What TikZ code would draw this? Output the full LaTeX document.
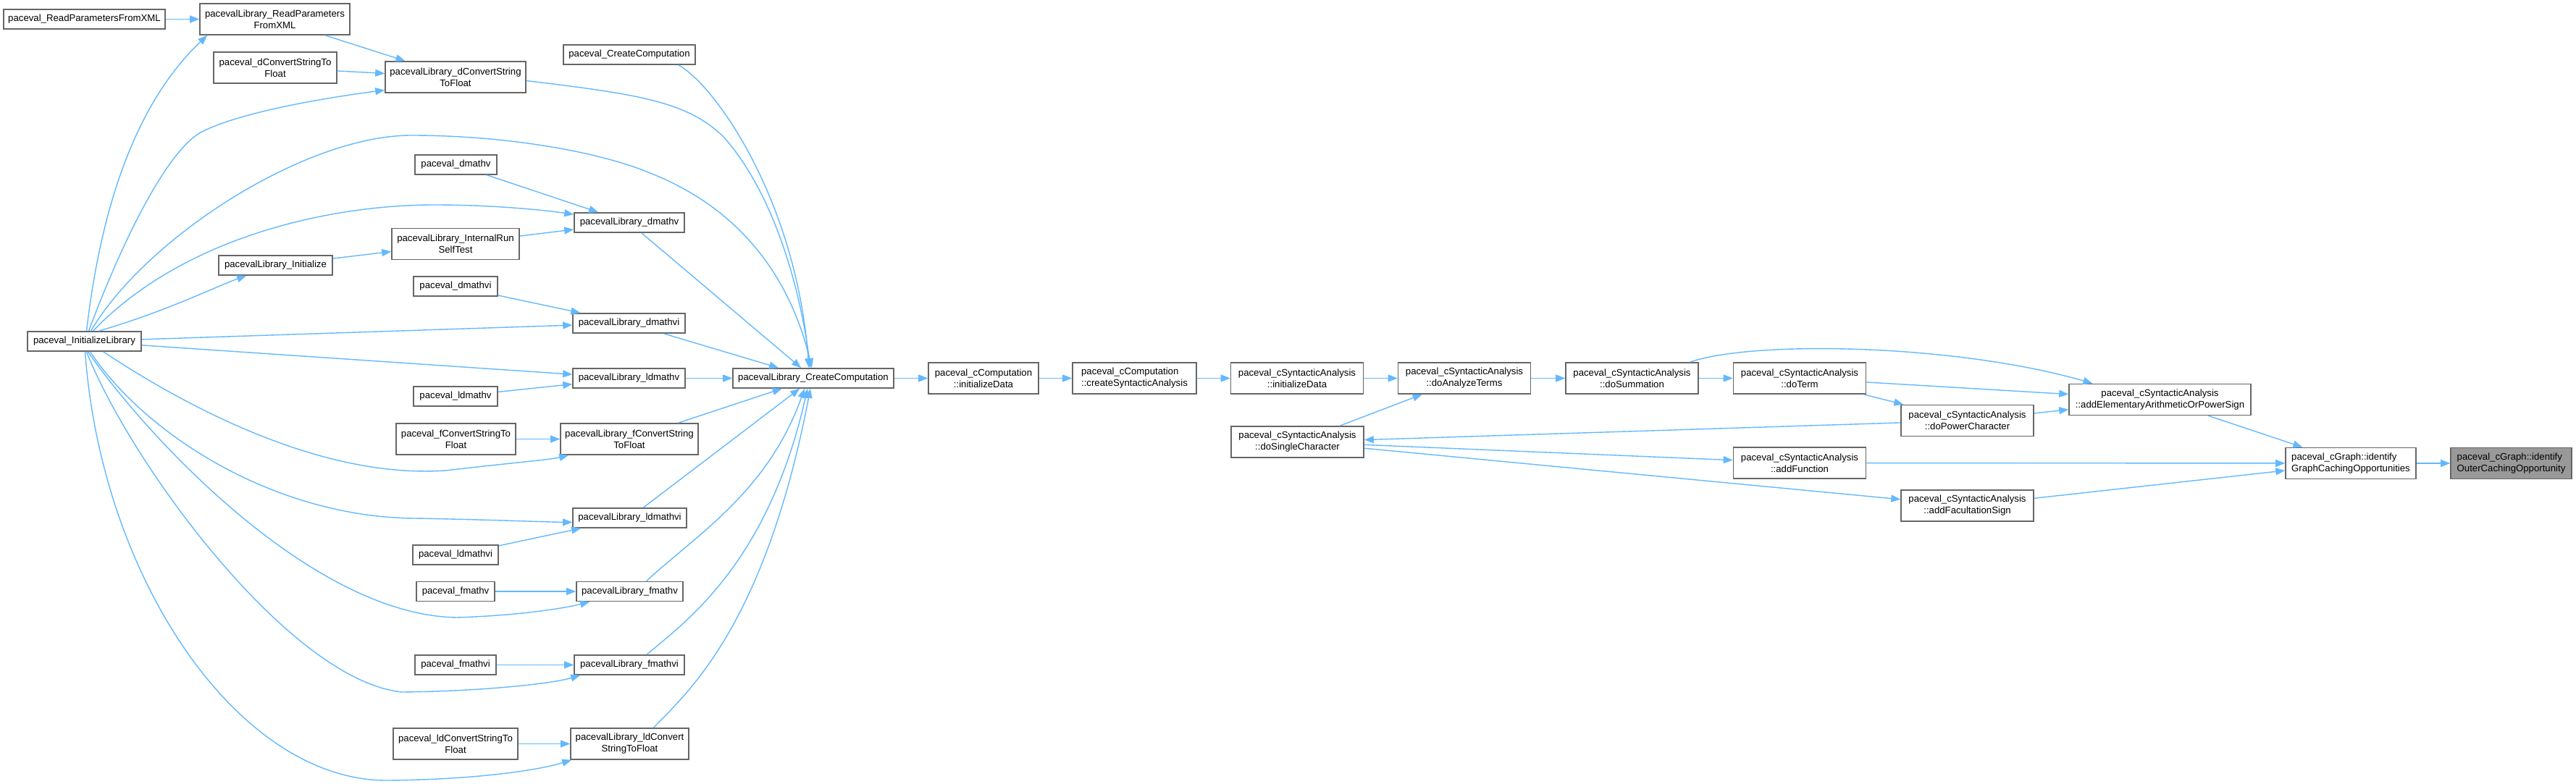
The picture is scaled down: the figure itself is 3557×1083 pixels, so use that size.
\documentclass[tikz,border=0pt]{standalone}
\usepackage{fontspec}
\setmainfont{Liberation Sans}
\usetikzlibrary{arrows.meta,calc}

\definecolor{edgeblue}{RGB}{99,184,255}
\definecolor{boxline}{RGB}{102,102,102}
\definecolor{selfill}{RGB}{153,153,153}

\begin{document}
\begin{tikzpicture}[x=1pt,y=-1pt,
  fn/.style={draw=boxline, line width=1.6pt, fill=white, inner sep=2pt,
    minimum height=27pt, align=center, font=\fontsize{13.2pt}{16pt}\selectfont},
  fn2/.style={fn, minimum height=43pt},
  call/.style={draw=edgeblue, line width=1.4pt, -{Triangle[length=13pt,width=10pt]}}]

\useasboundingbox (0,0) rectangle (3557,1083);

% left column
\node[fn, minimum width=223pt] (rpx) at (116.5,26.5) {paceval\_ReadParametersFromXML};
\node[fn, minimum width=157pt] (il) at (116.5,471.5) {paceval\_InitializeLibrary};

% second column
\node[fn2, minimum width=207pt] (lrpx) at (379.5,26.5) {pacevalLibrary\_ReadParameters\\FromXML};
\node[fn2, minimum width=170pt] (dcs) at (380,93.5) {paceval\_dConvertStringTo\\Float};
\node[fn, minimum width=157pt] (lini) at (380.5,366.5) {pacevalLibrary\_Initialize};

% third column
\node[fn2, minimum width=194pt] (ldcs) at (629,106.5) {pacevalLibrary\_dConvertString\\ToFloat};
\node[fn, minimum width=113pt] (dmv) at (629.5,227.5) {paceval\_dmathv};
\node[fn2, minimum width=176pt] (lirs) at (629,337) {pacevalLibrary\_InternalRun\\SelfTest};
\node[fn, minimum width=116pt] (dmvi) at (629,395.5) {paceval\_dmathvi};
\node[fn, minimum width=116pt] (ldmv) at (629,547.5) {paceval\_ldmathv};
\node[fn2, minimum width=165pt] (fcs) at (629.5,606.5) {paceval\_fConvertStringTo\\Float};
\node[fn, minimum width=118pt] (ldmvi) at (629,766.5) {paceval\_ldmathvi};
\node[fn, minimum width=108pt] (fmv) at (629,817) {paceval\_fmathv};
\node[fn, minimum width=112pt] (fmvi) at (629,918.5) {paceval\_fmathvi};
\node[fn2, minimum width=172pt] (ldcsf) at (629,1027.5) {paceval\_ldConvertStringTo\\Float};

% fourth column
\node[fn, minimum width=182pt] (ccp) at (869,75.5) {paceval\_CreateComputation};
\node[fn, minimum width=152pt] (libdmv) at (869,307.5) {pacevalLibrary\_dmathv};
\node[fn, minimum width=155pt] (libdmvi) at (868.5,446.5) {pacevalLibrary\_dmathvi};
\node[fn, minimum width=155pt] (libldmv) at (868.5,522.5) {pacevalLibrary\_ldmathv};
\node[fn2, minimum width=190pt] (libfcs) at (869,606.5) {pacevalLibrary\_fConvertString\\ToFloat};
\node[fn, minimum width=157pt] (libldmvi) at (869.5,715.5) {pacevalLibrary\_ldmathvi};
\node[fn, minimum width=147pt] (libfmv) at (869.5,817) {pacevalLibrary\_fmathv};
\node[fn, minimum width=152pt] (libfmvi) at (869,918.5) {pacevalLibrary\_fmathvi};
\node[fn2, minimum width=163pt] (libldcs) at (869.5,1027.5) {pacevalLibrary\_ldConvert\\StringToFloat};

% main chain
\node[fn, minimum width=222pt] (cc) at (1123,522.5) {pacevalLibrary\_CreateComputation};
\node[fn2, minimum width=152pt] (cin) at (1358,522.5) {paceval\_cComputation\\::initializeData};
\node[fn2, minimum width=171pt, align=left] (ccsa) at (1566.5,522.5) {paceval\_cComputation\\::createSyntacticAnalysis};
\node[fn2, minimum width=183pt] (sin) at (1791,522.5) {paceval\_cSyntacticAnalysis\\::initializeData};
\node[fn2, minimum width=183pt] (ssc) at (1791.5,610.5) {paceval\_cSyntacticAnalysis\\::doSingleCharacter};
\node[fn2, minimum width=183pt] (sat) at (2022,522.5) {paceval\_cSyntacticAnalysis\\::doAnalyzeTerms};
\node[fn2, minimum width=183pt] (ssum) at (2253.5,522.5) {paceval\_cSyntacticAnalysis\\::doSummation};
\node[fn2, minimum width=183pt] (sterm) at (2485,522.5) {paceval\_cSyntacticAnalysis\\::doTerm};
\node[fn2, minimum width=183pt] (sfun) at (2485,639.5) {paceval\_cSyntacticAnalysis\\::addFunction};
\node[fn2, minimum width=183pt] (spow) at (2716.5,581) {paceval\_cSyntacticAnalysis\\::doPowerCharacter};
\node[fn2, minimum width=183pt] (sfac) at (2716.5,698.5) {paceval\_cSyntacticAnalysis\\::addFacultationSign};
\node[fn2, minimum width=251pt] (saea) at (2982.5,552) {paceval\_cSyntacticAnalysis\\::addElementaryArithmeticOrPowerSign};
\node[fn2, minimum width=180pt, align=left] (ggc) at (3246,640) {paceval\_cGraph::identify\\GraphCachingOpportunities};
\node[fn2, minimum width=167pt, align=left, fill=selfill] (goc) at (3467.5,640) {paceval\_cGraph::identify\\OuterCachingOpportunity};

% straight calls
\foreach \a/\b in {rpx/lrpx, lrpx/ldcs, dcs/ldcs, lini/lirs, lirs/libdmv, dmv/libdmv,
  dmvi/libdmvi, il/libdmvi, il/libldmv, ldmv/libldmv, fcs/libfcs, ldmvi/libldmvi,
  fmv/libfmv, fmvi/libfmvi, ldcsf/libldcs, libdmv/cc, libdmvi/cc, libldmv/cc,
  libfcs/cc, libldmvi/cc, cc/cin, cin/ccsa, ccsa/sin, sin/sat, ssc/sat, sat/ssum,
  ssum/sterm, sterm/saea, sterm/spow, spow/saea, spow/ssc, ssc/sfun, ssc/sfac,
  saea/ggc, sfun/ggc, sfac/ggc, ggc/goc} {
  \draw[call] (\a) -- (\b);
}

% curved calls
\draw[call] ($(il.north)+(3,0)$) .. controls (140,280) and (190,140) .. ($(lrpx.south west)+(11,0)$);
\draw[call] ($(il.north)+(6,0)$) .. controls (170,330) and (230,210) .. (277,183)
  .. controls (330,155) and (450,135) .. ($(ldcs.west)+(0,18)$);
\draw[call] ($(il.north)+(9,0)$) .. controls (200,330) and (420,187) .. (568,187)
  .. controls (700,187) and (830,210) .. (900,240)
  .. controls (1050,300) and (1100,420) .. ($(cc.north)+(-2,0)$);
\draw[call] ($(il.north)+(12,0)$) .. controls (250,330) and (450,283) .. (600,283)
  .. controls (680,283) and (750,290) .. ($(libdmv.north west)+(0,3)$);
\draw[call] ($(il.north)+(20,0)$) .. controls (230,430) and (300,395) .. ($(lini.south west)+(39,0)$);
\draw[call] ($(ldcs.east)+(0,5)$) .. controls (880,130) and (950,140) .. (1000,190)
  .. controls (1070,270) and (1105,400) .. ($(cc.north)+(-4,0)$);
\draw[call] ($(ccp.south)+(68,0)$) .. controls (990,120) and (1100,280) .. ($(cc.north)+(-6,0)$);

\draw[call] ($(il.south)+(26,0)$) .. controls (300,590) and (470,660) .. (615,650)
  .. controls (700,640) and (760,635) .. ($(libfcs.south west)+(12,0)$);
\draw[call] ($(il.south)+(8,0)$) .. controls (200,600) and (380,715) .. (574,716)
  .. controls (680,718) and (750,721) .. ($(libldmvi.west)+(0,6)$);
\draw[call] ($(il.south)+(5,0)$) .. controls (200,600) and (430,850) .. (631,853)
  .. controls (720,850) and (780,840) .. ($(libfmv.south west)+(19,0)$);
\draw[call] ($(il.south)+(3,0)$) .. controls (180,640) and (400,940) .. (555,956)
  .. controls (660,955) and (760,945) .. ($(libfmvi.south west)+(9,0)$);
\draw[call] ($(il.south)+(1,0)$) .. controls (140,800) and (330,1080) .. (536,1078)
  .. controls (650,1077) and (740,1065) .. ($(libldcs.south west)+(2,0)$);
\draw[call] ($(libfmv.north)+(23,0)$) .. controls (960,740) and (1060,680) .. ($(cc.south)+(-12,0)$);
\draw[call] ($(libfmvi.north)+(24,0)$) .. controls (945,860) and (1060,780) .. ($(cc.south)+(-8,0)$);
\draw[call] ($(libldcs.north)+(33,0)$) .. controls (945,960) and (1055,870) .. ($(cc.south)+(-4,0)$);

\draw[call] ($(ssum.north)+(80,0)$) .. controls (2420,470) and (2700,475) .. ($(saea.north)+(-93,0)$);

\end{tikzpicture}
\end{document}
